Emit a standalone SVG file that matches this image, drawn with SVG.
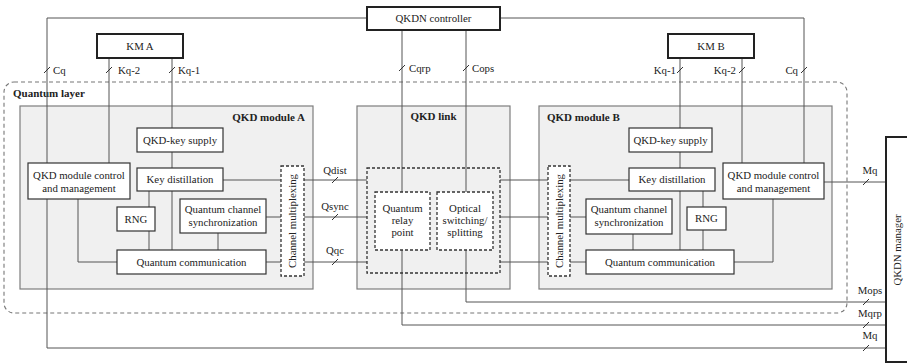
<svg xmlns="http://www.w3.org/2000/svg" xmlns:xlink="http://www.w3.org/1999/xlink" width="907" height="364" viewBox="0 0 907 364">
<style>
text{font-family:"Liberation Serif","Times New Roman",serif;font-size:10.8px;fill:#222}
.c{text-anchor:middle}
.e{text-anchor:end}
.b{font-weight:bold;font-size:11px}
.box{fill:#fff;stroke:#333;stroke-width:1.2}
.thick{fill:#fff;stroke:#222;stroke-width:2}
.mod{fill:#f0f0f0;stroke:#7d7d7d;stroke-width:1.2}
.dash{fill:#fff;stroke:#333;stroke-width:1.3;stroke-dasharray:3 2}
.dashn{fill:none;stroke:#333;stroke-width:1.3;stroke-dasharray:3 2}
.layer{fill:none;stroke:#777;stroke-width:1.1;stroke-dasharray:4 3}
.ln{fill:none;stroke:#555;stroke-width:1}
.tk{stroke:#333;stroke-width:1}
</style>
<defs>
<path id="tick" d="M-3,3 L3,-3" class="tk"/>
</defs>

<g id="quantum-layer">
<rect class="layer" x="4" y="82" width="843" height="231" rx="10"/>
<text class="b" x="13" y="97">Quantum layer</text>
</g>

<g id="qkd-module-a">
<rect class="mod" x="20" y="106" width="293" height="183"/>
<text class="b e" x="305" y="121">QKD module A</text>
</g>
<g id="qkd-link">
<rect class="mod" x="357" y="106" width="153" height="183"/>
<text class="b c" x="433.5" y="120">QKD link</text>
</g>
<g id="qkd-module-b">
<rect class="mod" x="539" y="106" width="293" height="183"/>
<text class="b" x="547" y="121">QKD module B</text>
</g>

<g id="connectors">
<!-- controller bus -->
<path class="ln" d="M47,348 V18 H367 M500,18 H804 V163"/>
<!-- KM A -->
<path class="ln" d="M109,58 V163 M172,58 V128"/>
<!-- KM B -->
<path class="ln" d="M680,58 V128 M742,58 V163"/>
<!-- controller to link -->
<path class="ln" d="M402,30 V192 M466,30 V192"/>
<!-- module A internal -->
<path class="ln" d="M172,152 V168 M172,191 V250 M149,191 V207 M149,231 V250 M218,233 V250"/>
<path class="ln" d="M223,180 H281 M266,217 H281 M266,262 H281 M78,199 V262 H117"/>
<!-- A to link -->
<path class="ln" d="M304,180 H367 M304,217 H367 M304,262 H367"/>
<!-- link to B -->
<path class="ln" d="M500,180 H548 M500,217 H548 M500,262 H548"/>
<!-- module B internal -->
<path class="ln" d="M570,180 H629 M570,217 H586 M570,262 H586"/>
<path class="ln" d="M680,152 V168 M680,191 V250 M703,191 V207 M703,230 V250 M633,234 V250 M734,262 H773 V199"/>
<!-- management -->
<path class="ln" d="M824,182 H886 M466,250 V302 H886 M402,250 V325 H886 M47,348 H886"/>
<!-- ticks -->
<use href="#tick" xlink:href="#tick" x="47" y="70"/>
<use href="#tick" xlink:href="#tick" x="109" y="70"/>
<use href="#tick" xlink:href="#tick" x="172" y="70"/>
<use href="#tick" xlink:href="#tick" x="402" y="68"/>
<use href="#tick" xlink:href="#tick" x="466" y="68"/>
<use href="#tick" xlink:href="#tick" x="680" y="70"/>
<use href="#tick" xlink:href="#tick" x="742" y="70"/>
<use href="#tick" xlink:href="#tick" x="804" y="70"/>
<use href="#tick" xlink:href="#tick" x="335" y="180"/>
<use href="#tick" xlink:href="#tick" x="335" y="217"/>
<use href="#tick" xlink:href="#tick" x="335" y="262"/>
<use href="#tick" xlink:href="#tick" x="866" y="182"/>
<use href="#tick" xlink:href="#tick" x="866" y="302"/>
<use href="#tick" xlink:href="#tick" x="866" y="325"/>
<use href="#tick" xlink:href="#tick" x="866" y="348"/>
<!-- labels -->
<text x="53" y="74">Cq</text>
<text x="118" y="74">Kq-2</text>
<text x="178" y="74">Kq-1</text>
<text x="409" y="72">Cqrp</text>
<text x="472" y="72">Cops</text>
<text class="e" x="676" y="74">Kq-1</text>
<text class="e" x="736" y="74">Kq-2</text>
<text class="e" x="798" y="74">Cq</text>
<text class="c" x="335" y="174">Qdist</text>
<text class="c" x="335" y="210">Qsync</text>
<text class="c" x="335" y="254">Qqc</text>
<text class="c" x="870" y="174">Mq</text>
<text class="c" x="870" y="294">Mops</text>
<text class="c" x="870" y="317">Mqrp</text>
<text class="c" x="870" y="339">Mq</text>
</g>

<g id="qkdn-controller">
<rect class="thick" x="367" y="7" width="133" height="23"/>
<text class="c" x="433.5" y="22">QKDN controller</text>
</g>
<g id="km-a">
<rect class="thick" x="97" y="34" width="86" height="24"/>
<text class="c" x="140" y="50">KM A</text>
</g>
<g id="km-b">
<rect class="thick" x="668" y="34" width="86" height="24"/>
<text class="c" x="711" y="50">KM B</text>
</g>
<g id="qkdn-manager">
<rect class="thick" x="886" y="137" width="30" height="225"/>
<text class="c" transform="translate(901,250) rotate(-90)">QKDN manager</text>
</g>

<g id="a-key-supply">
<rect class="box" x="137" y="128" width="86" height="24"/>
<text class="c" x="180" y="144">QKD-key supply</text>
</g>
<g id="a-key-distillation">
<rect class="box" x="137" y="168" width="86" height="23"/>
<text class="c" x="180" y="183">Key distillation</text>
</g>
<g id="a-control">
<rect class="box" x="28" y="163" width="102" height="36"/>
<text class="c" x="79" y="179">QKD module control</text>
<text class="c" x="79" y="192">and management</text>
</g>
<g id="a-rng">
<rect class="box" x="117" y="207" width="38" height="24"/>
<text class="c" x="136" y="223">RNG</text>
</g>
<g id="a-sync">
<rect class="box" x="180" y="199" width="86" height="34"/>
<text class="c" x="223" y="213">Quantum channel</text>
<text class="c" x="223" y="226">synchronization</text>
</g>
<g id="a-quantum-comm">
<rect class="box" x="117" y="250" width="149" height="24"/>
<text class="c" x="191.5" y="266">Quantum communication</text>
</g>
<g id="a-channel-mux">
<rect class="dash" x="281" y="166" width="23" height="110"/>
<text class="c" transform="translate(296,221) rotate(-90)">Channel multiplexing</text>
</g>

<g id="link-optical-path">
<rect class="dashn" x="367" y="168" width="133" height="105"/>
</g>
<g id="quantum-relay-point">
<rect class="dash" x="375" y="192" width="55" height="58"/>
<text class="c" x="402.5" y="212">Quantum</text>
<text class="c" x="402.5" y="224">relay</text>
<text class="c" x="402.5" y="236">point</text>
</g>
<g id="optical-switching">
<rect class="dash" x="437" y="192" width="56" height="58"/>
<text class="c" x="465" y="212">Optical</text>
<text class="c" x="465" y="224">switching/</text>
<text class="c" x="465" y="236">splitting</text>
</g>

<g id="b-channel-mux">
<rect class="dash" x="548" y="166" width="22" height="110"/>
<text class="c" transform="translate(563,221) rotate(-90)">Channel multiplexing</text>
</g>
<g id="b-key-supply">
<rect class="box" x="629" y="128" width="83" height="24"/>
<text class="c" x="670.5" y="144">QKD-key supply</text>
</g>
<g id="b-key-distillation">
<rect class="box" x="629" y="168" width="86" height="23"/>
<text class="c" x="672" y="183">Key distillation</text>
</g>
<g id="b-control">
<rect class="box" x="723" y="163" width="101" height="36"/>
<text class="c" x="773.5" y="179">QKD module control</text>
<text class="c" x="773.5" y="192">and management</text>
</g>
<g id="b-rng">
<rect class="box" x="687" y="207" width="39" height="23"/>
<text class="c" x="706.5" y="222">RNG</text>
</g>
<g id="b-sync">
<rect class="box" x="586" y="199" width="86" height="35"/>
<text class="c" x="629" y="213">Quantum channel</text>
<text class="c" x="629" y="226">synchronization</text>
</g>
<g id="b-quantum-comm">
<rect class="box" x="586" y="250" width="148" height="24"/>
<text class="c" x="660" y="266">Quantum communication</text>
</g>
</svg>
